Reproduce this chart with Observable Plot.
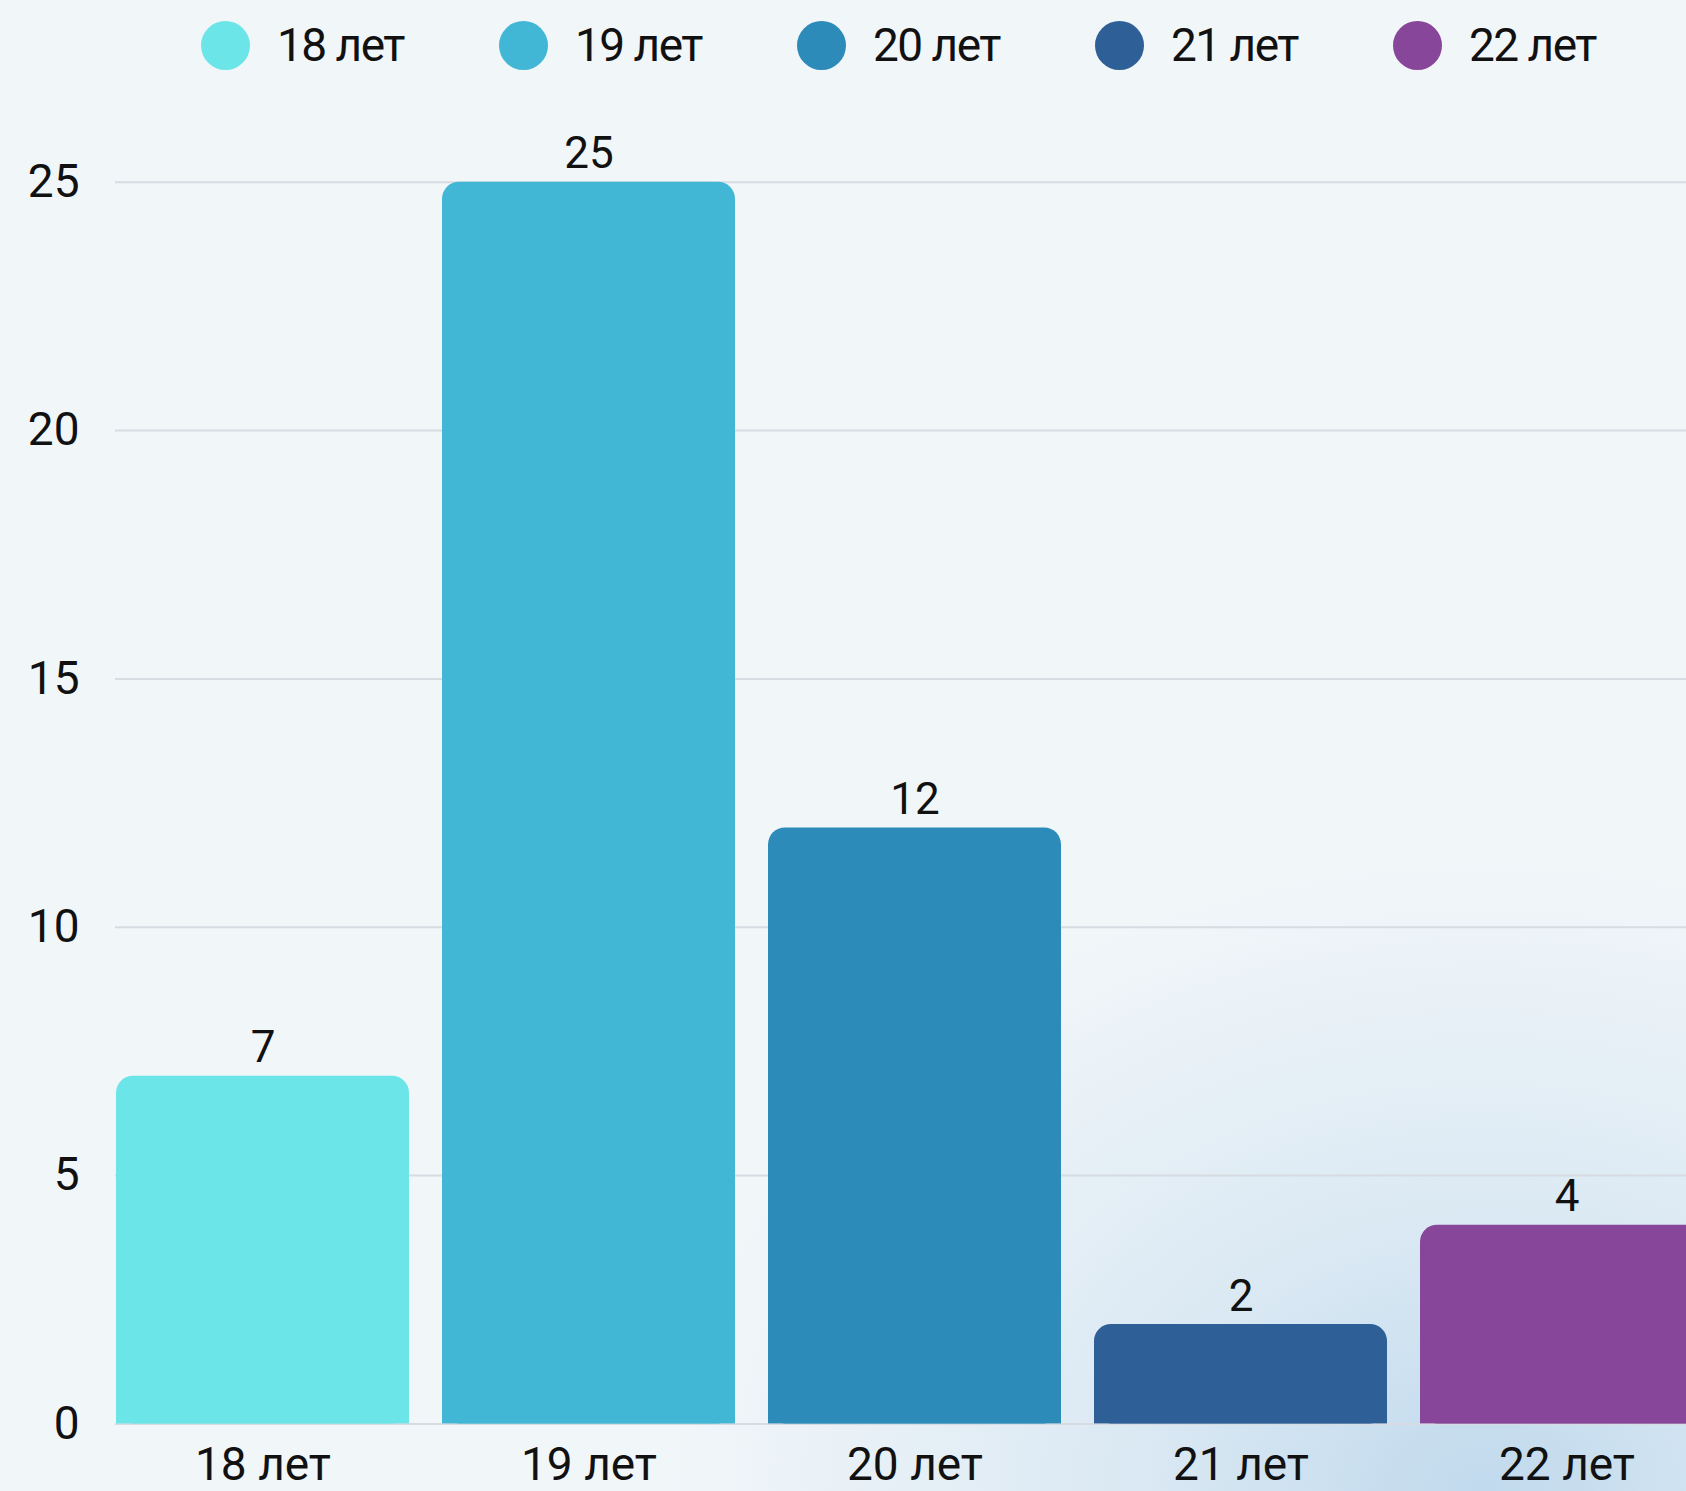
<!DOCTYPE html>
<html>
<head>
<meta charset="utf-8">
<script src="https://cdn.jsdelivr.net/npm/d3@7"></script>
<script src="https://cdn.jsdelivr.net/npm/@observablehq/plot@0.6"></script>
<style>
  html, body { margin: 0; padding: 0; }
  body {
    width: 1686px; height: 1491px; overflow: hidden;
    font-family: Roboto, "Noto Sans", sans-serif;
    background:
      radial-gradient(ellipse 48% 42% at 88% 100%, rgba(190,216,236,0.95) 0%, rgba(205,225,240,0.6) 45%, rgba(241,246,249,0) 100%),
      #f1f6f9;
  }
  #legend {
    height: 100px; box-sizing: border-box;
    display: flex; align-items: flex-start;
    padding-top: 21px; padding-left: 201px;
  }
  .item { display: flex; align-items: center; gap: 27px; height: 49px; width: 298px; flex: none; }
  .dot { width: 49px; height: 49px; border-radius: 50%; flex: none; }
  .lbl { font-size: 46px; letter-spacing: -1.5px; color: #111; line-height: 49px; white-space: nowrap; }
  #chart svg { display: block; max-width: none; }
</style>
</head>
<body>
<div id="legend"></div>
<div id="chart"></div>
<script>
const ages = ["18 лет", "19 лет", "20 лет", "21 лет", "22 лет"];
const counts = [7, 25, 12, 2, 4];
const colors = ["#6ce5e8", "#42b7d5", "#2d8bba", "#2e5f97", "#874699"];
const yTicks = [0, 5, 10, 15, 20, 25];

const data = ages.map((a, i) => ({age: a, value: counts[i]}));

// legend
const legend = document.getElementById("legend");
ages.forEach((a, i) => {
  const it = document.createElement("div");
  it.className = "item";
  const d = document.createElement("div");
  d.className = "dot";
  d.style.background = colors[i];
  const t = document.createElement("span");
  t.className = "lbl";
  t.textContent = a;
  it.appendChild(d); it.appendChild(t);
  legend.appendChild(it);
});

const chart = Plot.plot({
  width: 1686,
  height: 1391,
  marginLeft: 115,
  marginRight: 0,
  marginTop: 82,
  marginBottom: 68,
  style: {background: "transparent", fontFamily: "Roboto, 'Noto Sans', sans-serif", color: "#111", overflow: "hidden"},
  x: {domain: ages, range: [115, 1714], paddingInner: 0.1, paddingOuter: 0, label: null},
  y: {domain: [0, 25], range: [1323.4, 81.7], label: null},
  color: {domain: ages, range: colors},
  marks: [
    Plot.gridY(yTicks, {stroke: "#d6dce1", strokeOpacity: 1, strokeWidth: 2}),
    Plot.barY(data, {x: "age", y: "value", fill: "age", rx: 17}),
    Plot.barY(data, {x: "age", y1: 0, y2: d => d.value - 0.5, fill: "age"}),
    Plot.text(data, {x: "age", y: "value", text: d => String(d.value), dy: -28, fontSize: 44, fill: "#111", letterSpacing: "-1.5px"}),
    Plot.axisY(yTicks, {tickSize: 0, tickPadding: 36, fontSize: 46, fill: "#111", letterSpacing: "-1.5px", tickFormat: d => String(d)}),
    Plot.axisX({tickSize: 0, tickPadding: 24, fontSize: 46, fill: "#111", letterSpacing: "-1.5px"})
  ]
});
document.getElementById("chart").appendChild(chart);
</script>
</body>
</html>
